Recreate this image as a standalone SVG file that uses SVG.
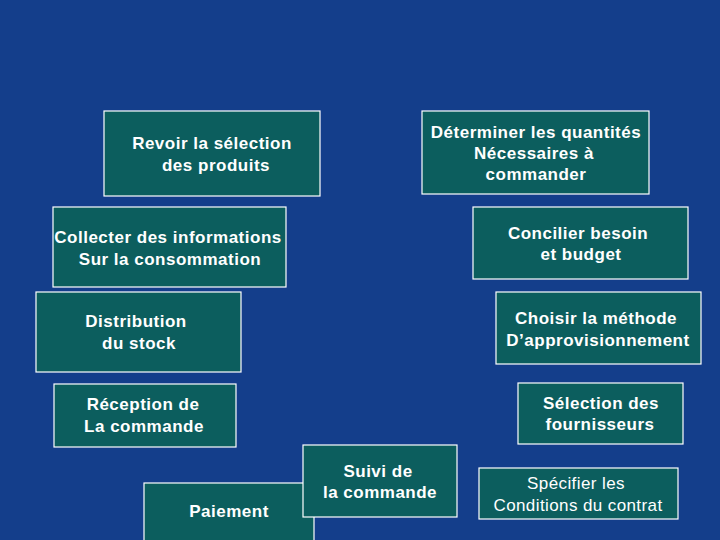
<svg xmlns="http://www.w3.org/2000/svg" width="720" height="540" viewBox="0 0 720 540">
<style>
.box{fill:#0c5e5e;stroke:#ffffff;stroke-width:1.2}
.t{font-family:"Liberation Sans",Arial,sans-serif;font-size:17px;font-weight:bold;fill:#ffffff;text-anchor:middle;letter-spacing:0.5px}
.n{font-weight:normal;letter-spacing:0.4px}
</style>
<rect width="720" height="540" fill="#143e8b"/>
<g id="connectors"/>
<g id="revoir">
<rect class="box" x="104" y="111" width="216" height="85"/>
<text class="t" x="212" y="149">Revoir la sélection</text>
<text class="t" x="216" y="171">des produits</text>
</g>
<g id="determiner">
<rect class="box" x="422" y="111" width="227" height="83"/>
<text class="t" x="536" y="138">Déterminer les quantités</text>
<text class="t" x="534" y="159">Nécessaires à</text>
<text class="t" x="536" y="180">commander</text>
</g>
<g id="collecter">
<rect class="box" x="53" y="207" width="233" height="80"/>
<text class="t" x="168" y="243">Collecter des informations</text>
<text class="t" x="170" y="265">Sur la consommation</text>
</g>
<g id="concilier">
<rect class="box" x="473" y="207" width="215" height="72"/>
<text class="t" x="578" y="239">Concilier besoin</text>
<text class="t" x="581" y="260">et budget</text>
</g>
<g id="distribution">
<rect class="box" x="36" y="292" width="205" height="80"/>
<text class="t" x="136" y="327">Distribution</text>
<text class="t" x="139" y="349">du stock</text>
</g>
<g id="choisir">
<rect class="box" x="496" y="292" width="205" height="72"/>
<text class="t" x="596" y="324">Choisir la méthode</text>
<text class="t" x="598" y="346">D’approvisionnement</text>
</g>
<g id="reception">
<rect class="box" x="54" y="384" width="182" height="63"/>
<text class="t" x="143" y="410">Réception de</text>
<text class="t" x="144" y="432">La commande</text>
</g>
<g id="selection">
<rect class="box" x="518" y="383" width="165" height="61"/>
<text class="t" x="601" y="409">Sélection des</text>
<text class="t" x="600" y="430">fournisseurs</text>
</g>
<g id="paiement">
<rect class="box" x="144" y="483" width="170" height="70"/>
<text class="t" x="229" y="517">Paiement</text>
</g>
<g id="suivi">
<rect class="box" x="303" y="445" width="154" height="72"/>
<text class="t" x="378" y="477">Suivi de</text>
<text class="t" x="380" y="498">la commande</text>
</g>
<g id="specifier">
<rect class="box" x="479" y="468" width="199" height="51"/>
<text class="t n" x="576" y="489">Spécifier les</text>
<text class="t n" x="578" y="511">Conditions du contrat</text>
</g>
</svg>
